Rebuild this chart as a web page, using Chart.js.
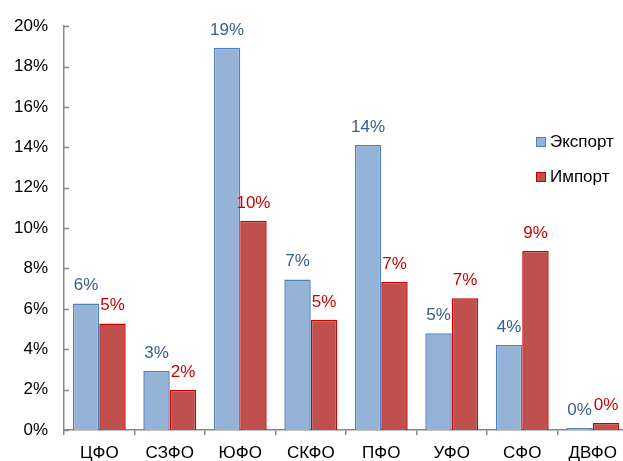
<!DOCTYPE html>
<html>
<head>
<meta charset="utf-8">
<script src="https://cdn.jsdelivr.net/npm/chart.js@4/dist/chart.umd.min.js"></script>
<style>
  html, body { margin: 0; padding: 0; overflow: hidden; background: #fff; }
  #wrap { width: 629px; height: 461px; }
</style>
</head>
<body>
<div id="wrap"><canvas id="c" width="629" height="461"></canvas></div>
<script>
const categories = ['ЦФО', 'СЗФО', 'ЮФО', 'СКФО', 'ПФО', 'УФО', 'СФО', 'ДВФО'];
const exportValues = [6.27, 2.92, 18.93, 7.46, 14.11, 4.79, 4.21, 0.1];
const importValues = [5.28, 1.98, 10.36, 5.46, 7.33, 6.53, 8.86, 0.35];
const seriesNames = ['Экспорт', 'Импорт'];
const yTickValues = [0, 2, 4, 6, 8, 10, 12, 14, 16, 18, 20];

const FONT = 'Arial, "Liberation Sans", sans-serif';
const FS = 17;
const exportFill = '#95B3D7', exportBorder = '#4F81BD', exportLabel = '#376092';
const importFill = '#C0504D', importBorder = '#CC0000', importLabel = '#CC0000';
const axisColor = '#888888';

const overlay = {
  id: 'overlay',
  afterDatasetsDraw(chart) {
    const ctx = chart.ctx;
    const y = chart.scales.y;
    ctx.save();
    ctx.strokeStyle = axisColor;
    ctx.lineWidth = 1.5;
    yTickValues.forEach(v => {
      const py = Math.round(y.getPixelForValue(v)) + 0.5;
      ctx.beginPath();
      ctx.moveTo(y.right, py);
      ctx.lineTo(y.right + 5, py);
      ctx.stroke();
    });
    ctx.font = FS + 'px ' + FONT;
    ctx.textAlign = 'center';
    ctx.textBaseline = 'alphabetic';
    chart.data.datasets.forEach((ds, i) => {
      const meta = chart.getDatasetMeta(i);
      ctx.fillStyle = i === 0 ? exportLabel : importLabel;
      meta.data.forEach((bar, j) => {
        ctx.fillText(Math.round(ds.data[j]) + '%', bar.x, bar.y - 13);
      });
    });
    const items = [
      { name: seriesNames[0], fill: exportFill, border: exportBorder, y: 142 },
      { name: seriesNames[1], fill: importFill, border: importBorder, y: 177 }
    ];
    ctx.textAlign = 'left';
    ctx.textBaseline = 'middle';
    items.forEach(it => {
      ctx.fillStyle = it.fill;
      ctx.fillRect(536, it.y - 5, 10, 10);
      ctx.strokeStyle = it.border;
      ctx.lineWidth = 1;
      ctx.strokeRect(536.5, it.y - 4.5, 9, 9);
      ctx.fillStyle = '#000';
      ctx.fillText(it.name, 550, it.y);
    });
    ctx.restore();
  }
};

new Chart(document.getElementById('c'), {
  type: 'bar',
  data: {
    labels: categories,
    datasets: [
      { label: seriesNames[0], data: exportValues, backgroundColor: exportFill, borderColor: exportBorder, borderWidth: 1.5, categoryPercentage: 0.75, barPercentage: 1 },
      { label: seriesNames[1], data: importValues, backgroundColor: importFill, borderColor: importBorder, borderWidth: 1.5, categoryPercentage: 0.75, barPercentage: 1 }
    ]
  },
  options: {
    responsive: false,
    animation: false,
    devicePixelRatio: 1,
    layout: { padding: { top: 26, right: 1, left: 0, bottom: 0 } },
    plugins: { legend: { display: false }, tooltip: { enabled: false } },
    scales: {
      x: {
        grid: { display: true, offset: true, drawOnChartArea: false, drawTicks: true, tickLength: 5, color: axisColor, lineWidth: 1.5 },
        border: { display: true, color: axisColor, width: 1.5 },
        ticks: { color: '#000', font: { size: FS, family: FONT }, padding: 8, maxRotation: 0, autoSkip: false },
        afterFit(s) { s.height = 31; }
      },
      y: {
        min: 0, max: 20,
        afterBuildTicks(s) { s.ticks = yTickValues.map(v => ({ value: v })); },
        grid: { display: false, drawTicks: false },
        border: { display: true, color: axisColor, width: 1.5 },
        ticks: { color: '#000', font: { size: FS, family: FONT }, padding: 16, callback: v => v + '%' },
        afterFit(s) { s.width = 64; }
      }
    }
  },
  plugins: [overlay]
});
</script>
</body>
</html>
